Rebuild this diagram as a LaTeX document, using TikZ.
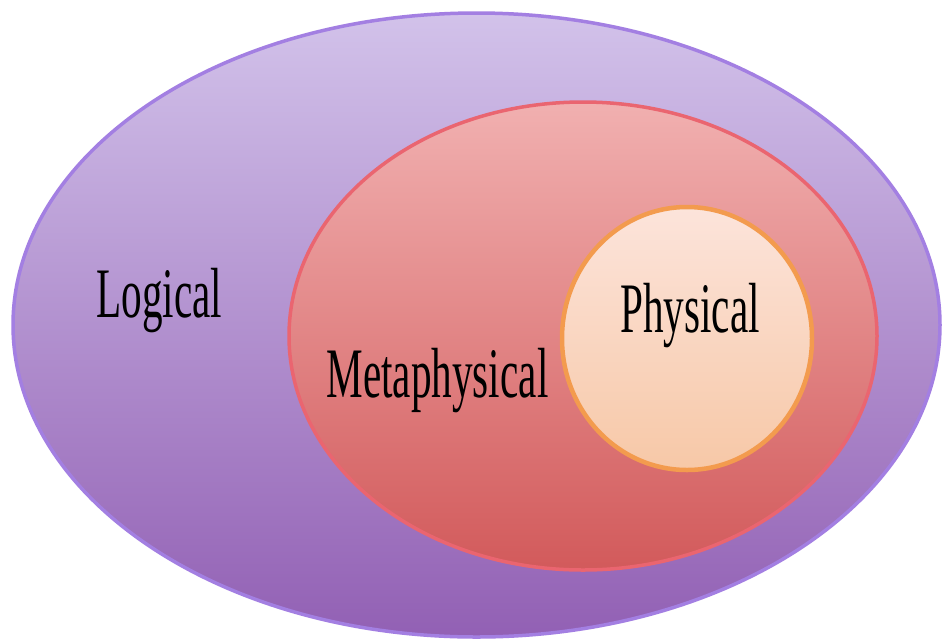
\documentclass[tikz,border=0pt]{standalone}
\usepackage{graphicx}
\usepackage{fontspec}
\setmainfont{Liberation Serif}
\definecolor{logTop}{HTML}{D2C2EA}
\definecolor{logBot}{HTML}{9260B4}
\definecolor{logEdge}{HTML}{A37FE2}
\definecolor{metTop}{HTML}{F1B0B0}
\definecolor{metBot}{HTML}{D25A5B}
\definecolor{metEdge}{HTML}{EA6570}
\definecolor{phyTop}{HTML}{FCE4DB}
\definecolor{phyBot}{HTML}{F7C8A7}
\definecolor{phyEdge}{HTML}{F39B4E}
\tikzset{
  label text/.style={anchor=base, inner sep=0pt, font=\fontsize{71}{71}\selectfont},
}
\newcommand{\narrow}[1]{\scalebox{0.58}[1]{#1}}
\begin{document}
\begin{tikzpicture}[x=1pt,y=-1pt]
  \useasboundingbox (0,0) rectangle (943,641);
  \fill[white] (0,0) rectangle (943,641);
  % outer set: Logical
  \shade[top color=logTop, bottom color=logBot] (476.5,325) ellipse [x radius=463.5, y radius=312];
  \draw[logEdge, line width=3.5pt] (476.5,325) ellipse [x radius=463.5, y radius=312];
  % middle set: Metaphysical
  \shade[top color=metTop, bottom color=metBot] (583,336) ellipse [x radius=294, y radius=234];
  \draw[metEdge, line width=3.5pt] (583,336) ellipse [x radius=294, y radius=234];
  % inner set: Physical
  \shade[top color=phyTop, bottom color=phyBot] (687,338.5) ellipse [x radius=125, y radius=131.5];
  \draw[phyEdge, line width=4.5pt] (687,338.5) ellipse [x radius=125, y radius=131.5];
  % labels
  \node[label text] (logical) at (159.5,317) {\narrow{Logical}};
  \node[label text] (metaphysical) at (437.5,397) {\narrow{Metaphysical}};
  \node[label text] (physical) at (690,332) {\narrow{Physical}};
\end{tikzpicture}
\end{document}
